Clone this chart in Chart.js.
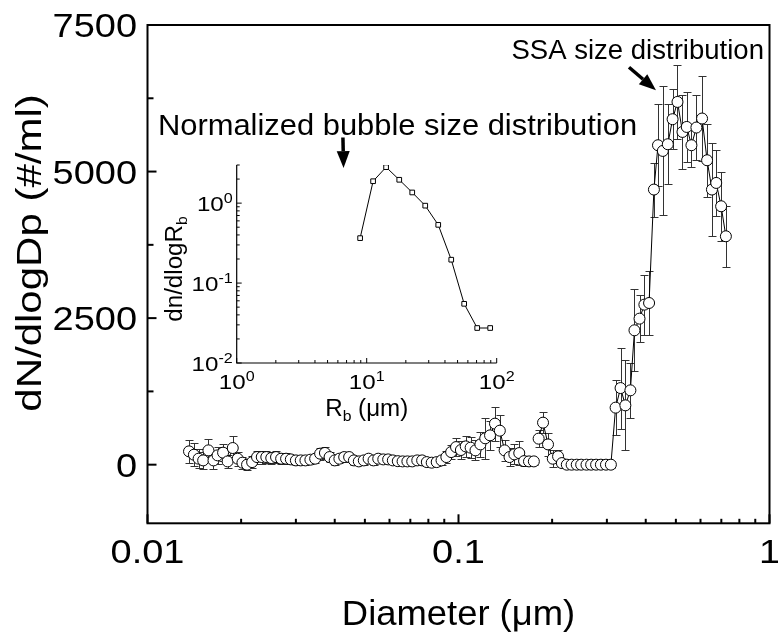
<!DOCTYPE html>
<html>
<head>
<meta charset="utf-8">
<script src="https://cdn.jsdelivr.net/npm/chart.js@4.4.1/dist/chart.umd.min.js"></script>
<style>
  body { margin: 0; background: #fff; }
  #wrap { position: relative; width: 778px; height: 634px; }
  #main { position: absolute; left: 0; top: 0; }
  #inset { position: absolute; left: 150px; top: 150px; }
</style>
</head>
<body>
<div id="wrap">
  <canvas id="main" width="778" height="634"></canvas>
  <canvas id="inset" width="370" height="280"></canvas>
</div>
<script>
// SMPS channels (um) and dN/dlogDp
const smpsDiam = [0.0136, 0.0141, 0.0146, 0.0151, 0.0157, 0.0163, 0.0168, 0.0175, 0.0181, 0.0188,
  0.0195, 0.0202, 0.0209, 0.0217, 0.0225, 0.0233, 0.0241, 0.0250, 0.0259, 0.0269,
  0.0279, 0.0289, 0.0300, 0.0311, 0.0322, 0.0334, 0.0346, 0.0359, 0.0372, 0.0385,
  0.0400, 0.0414, 0.0429, 0.0445, 0.0461, 0.0478, 0.0496, 0.0514, 0.0533, 0.0552,
  0.0573, 0.0594, 0.0615, 0.0638, 0.0661, 0.0685, 0.0710, 0.0737, 0.0764, 0.0791,
  0.0820, 0.0851, 0.0882, 0.0914, 0.0947, 0.0982, 0.1018, 0.1055, 0.1094, 0.1134,
  0.1176, 0.1219, 0.1263, 0.1310, 0.1358, 0.1407, 0.1459, 0.1512, 0.1568, 0.1625,
  0.1685, 0.1747];
const smpsConc = [227, 170, 102, 73, 244, 73, 159, 205, 56, 284,
  102, 34, 0, 44, 130, 130, 130, 113, 130, 102,
  102, 90, 73, 73, 73, 85, 102, 188, 200, 130,
  73, 102, 130, 130, 73, 56, 73, 102, 73, 102,
  90, 90, 73, 60, 56, 56, 56, 73, 73, 44,
  34, 44, 73, 130, 215, 300, 250, 312, 290, 244,
  346, 450, 500, 700, 580, 244, 130, 176, 198, 61,
  56, 56];
const smpsErr = [200, 200, 160, 150, 190, 150, 150, 140, 110, 210,
  120, 100, 90, 100, 110, 110, 100, 100, 100, 90,
  90, 80, 80, 80, 80, 80, 80, 100, 100, 80,
  80, 80, 80, 70, 70, 70, 70, 70, 70, 60,
  60, 60, 60, 60, 60, 60, 60, 60, 60, 60,
  60, 70, 80, 100, 120, 150, 150, 180, 180, 170,
  210, 350, 250, 290, 270, 180, 150, 170, 200, 80,
  60, 60];

// larger sizes
const apsDiam = [0.181, 0.187, 0.194, 0.201, 0.209, 0.215,
  0.223, 0.231, 0.240, 0.248, 0.258, 0.267, 0.277, 0.287, 0.298, 0.309,
  0.320, 0.332, 0.344, 0.357, 0.368, 0.382, 0.396, 0.410,
  0.425, 0.438, 0.454, 0.471, 0.488, 0.506, 0.525, 0.542,
  0.561, 0.582, 0.607, 0.630, 0.653, 0.674, 0.699, 0.724];
const apsConc = [444, 717, 346, 102, 142, 27,
  0, 0, 0, 0, 0, 0, 0, 0, 0, 0,
  973, 1307, 1012, 1268, 2292, 2491, 2730, 2758,
  4693, 5449, 5352, 5466, 5893, 6188, 5676, 5761,
  5449, 5751, 5905, 5193, 4693, 4806, 4408, 3896];
const apsErr = [150, 180, 200, 150, 100, 60,
  0, 0, 0, 0, 0, 0, 0, 0, 0, 60,
  470, 690, 770, 470, 700, 400, 510, 550,
  460, 700, 1100, 680, 510, 630, 630, 600,
  370, 550, 720, 620, 800, 560, 590, 525];

// inset: normalized bubble size distribution
const bubbleR = [8.9, 11.2, 14.1, 17.8, 22.4, 28.2, 35.5, 44.7, 56.2, 70.8, 89.1];
const bubbleN = [0.365, 1.88, 2.82, 1.96, 1.36, 0.93, 0.535, 0.196, 0.055, 0.0274, 0.0274];

// ticks
const xTicks = [0.01, 0.02, 0.03, 0.04, 0.05, 0.06, 0.07, 0.08, 0.09,
  0.1, 0.2, 0.3, 0.4, 0.5, 0.6, 0.7, 0.8, 0.9, 1];
const xLabelVals = [0.01, 0.1, 1];
const xLabels = ["0.01", "0.1", "1"];
const yTicks = [0, 1250, 2500, 3750, 5000, 6250, 7500];
const yLabelVals = [0, 2500, 5000, 7500];
const yLabels = ["0", "2500", "5000", "7500"];

const insetXTicks = [1, 2, 3, 4, 5, 6, 7, 8, 9, 10, 20, 30, 40, 50, 60, 70, 80, 90, 100];
const insetXMajor = [1, 10, 100];
const insetXExp = ["0", "1", "2"];
const insetYTicks = [0.01, 0.02, 0.03, 0.04, 0.05, 0.06, 0.07, 0.08, 0.09,
  0.1, 0.2, 0.3, 0.4, 0.5, 0.6, 0.7, 0.8, 0.9, 1, 2, 3];
const insetYMajor = [0.01, 0.1, 1];
const insetYExp = ["-2", "-1", "0"];

// annotation anchors, in data units of the main axes
const ssaText = { x: 0.96, y: 6928 };
const ssaArrow = { x1: 0.3534, y1: 6780, x2: 0.4315, y2: 6387 };
const bubbleText = { x: 0.0108, y: 5619 };
const bubbleArrow = { x1: 0.0425, y1: 5580, x2: 0.0427, y2: 5060 };

const FONT = "'Liberation Sans', Arial, sans-serif";

function toPts(xs, ys) {
  return xs.map((x, i) => ({ x, y: ys[i] }));
}

function drawText(ctx, text, x, y, size, sx, align) {
  ctx.save();
  ctx.translate(x, y);
  ctx.scale(sx, 1);
  ctx.font = size + "px " + FONT;
  ctx.textAlign = align || "left";
  ctx.textBaseline = "alphabetic";
  ctx.fillStyle = "#000";
  ctx.fillText(text, 0, 0);
  ctx.restore();
}

function drawArrow(ctx, x1, y1, x2, y2) {
  const ang = Math.atan2(y2 - y1, x2 - x1);
  const head = 17, half = 6.5;
  const bx = x2 - head * Math.cos(ang), by = y2 - head * Math.sin(ang);
  ctx.save();
  ctx.strokeStyle = "#000";
  ctx.fillStyle = "#000";
  ctx.lineWidth = 3.5;
  ctx.beginPath();
  ctx.moveTo(x1, y1);
  ctx.lineTo(bx, by);
  ctx.stroke();
  ctx.beginPath();
  ctx.moveTo(x2, y2);
  ctx.lineTo(bx + half * Math.sin(ang), by - half * Math.cos(ang));
  ctx.lineTo(bx - half * Math.sin(ang), by + half * Math.cos(ang));
  ctx.closePath();
  ctx.fill();
  ctx.restore();
}

const errorBars = {
  id: "errorBars",
  beforeDatasetsDraw(chart) {
    const { ctx, chartArea, scales: { x, y } } = chart;
    ctx.save();
    ctx.beginPath();
    ctx.rect(chartArea.left, chartArea.top, chartArea.width, chartArea.height);
    ctx.clip();
    ctx.strokeStyle = "#333";
    ctx.lineWidth = 1;
    chart.data.datasets.forEach(ds => {
      if (!ds.errors) return;
      ds.data.forEach((p, i) => {
        const e = ds.errors[i];
        if (!e) return;
        const px = Math.round(x.getPixelForValue(p.x)) + 0.5;
        const yt = Math.round(y.getPixelForValue(p.y + e)) + 0.5;
        const yb = Math.round(y.getPixelForValue(p.y - e)) + 0.5;
        ctx.beginPath();
        ctx.moveTo(px, yt); ctx.lineTo(px, yb);
        ctx.moveTo(px - 4, yt); ctx.lineTo(px + 4, yt);
        ctx.moveTo(px - 4, yb); ctx.lineTo(px + 4, yb);
        ctx.stroke();
      });
    });
    ctx.restore();
  }
};

const mainDecor = {
  id: "mainDecor",
  afterDraw(chart) {
    const { ctx, chartArea: a, scales: { x, y } } = chart;
    ctx.save();
    ctx.strokeStyle = "#000";
    ctx.lineWidth = 2;
    ctx.strokeRect(a.left, a.top, a.right - a.left, a.bottom - a.top);

    // inward ticks
    xTicks.forEach(v => {
      const px = x.getPixelForValue(v);
      const len = xLabelVals.includes(v) ? 9 : 4.5;
      ctx.beginPath();
      ctx.moveTo(px, a.bottom);
      ctx.lineTo(px, a.bottom - len);
      ctx.stroke();
    });
    yTicks.forEach(v => {
      const py = y.getPixelForValue(v);
      const len = yLabelVals.includes(v) ? 9 : 6;
      ctx.beginPath();
      ctx.moveTo(a.left, py);
      ctx.lineTo(a.left + len, py);
      ctx.stroke();
    });
    ctx.restore();

    // tick labels
    xLabelVals.forEach((v, i) => {
      drawText(ctx, xLabels[i], x.getPixelForValue(v), 563, 33, 1.15, "center");
    });
    yLabelVals.forEach((v, i) => {
      drawText(ctx, yLabels[i], 137, y.getPixelForValue(v) + 12, 33, 1.15, "right");
    });

    // axis titles
    drawText(ctx, "Diameter (\u03bcm)", (a.left + a.right) / 2, 625, 35, 1.04, "center");
    ctx.save();
    ctx.translate(41, 253);
    ctx.rotate(-Math.PI / 2);
    drawText(ctx, "dN/dlogDp (#/ml)", 0, 0, 35, 1.2, "center");
    ctx.restore();

    // annotations
    drawText(ctx, "SSA size distribution", x.getPixelForValue(ssaText.x), y.getPixelForValue(ssaText.y), 27, 1.02, "right");
    drawText(ctx, "Normalized bubble size distribution", x.getPixelForValue(bubbleText.x), y.getPixelForValue(bubbleText.y), 30, 1.03, "left");
    drawArrow(ctx, x.getPixelForValue(ssaArrow.x1), y.getPixelForValue(ssaArrow.y1),
      x.getPixelForValue(ssaArrow.x2), y.getPixelForValue(ssaArrow.y2));
    drawArrow(ctx, x.getPixelForValue(bubbleArrow.x1), y.getPixelForValue(bubbleArrow.y1),
      x.getPixelForValue(bubbleArrow.x2), y.getPixelForValue(bubbleArrow.y2));
  }
};

const seriesStyle = {
  showLine: true,
  borderColor: "#000",
  borderWidth: 1,
  tension: 0,
  pointRadius: 5.5,
  pointBackgroundColor: "#fff",
  pointBorderColor: "#000",
  pointBorderWidth: 1
};

new Chart(document.getElementById("main"), {
  type: "line",
  data: {
    datasets: [
      { data: toPts(smpsDiam, smpsConc), errors: smpsErr, ...seriesStyle },
      { data: toPts(apsDiam, apsConc), errors: apsErr, ...seriesStyle }
    ]
  },
  options: {
    responsive: false,
    animation: false,
    devicePixelRatio: 1,
    layout: { padding: { top: 25, right: 8.5, left: 0, bottom: 0 } },
    plugins: { legend: { display: false }, tooltip: { enabled: false } },
    scales: {
      x: {
        type: "logarithmic",
        min: 0.01,
        max: 1,
        grid: { display: false },
        border: { display: false },
        ticks: { display: false },
        afterBuildTicks: s => { s.ticks = xTicks.map(v => ({ value: v })); },
        afterFit: s => { s.height = 110.7; }
      },
      y: {
        type: "linear",
        min: -1000,
        max: 7500,
        grid: { display: false },
        border: { display: false },
        ticks: { display: false },
        afterBuildTicks: s => { s.ticks = yTicks.map(v => ({ value: v })); },
        afterFit: s => { s.width = 147.5; }
      }
    }
  },
  plugins: [errorBars, mainDecor]
});

function powerLabel(ctx, exp, x, y, align) {
  const base = 21, sup = 14, sx = 1.15;
  ctx.save();
  ctx.font = base + "px " + FONT;
  const w1 = ctx.measureText("10").width * sx;
  ctx.font = sup + "px " + FONT;
  const w2 = ctx.measureText(exp).width * sx;
  ctx.restore();
  let left = x;
  if (align === "center") left = x - (w1 + w2) / 2;
  if (align === "right") left = x - (w1 + w2);
  drawText(ctx, "10", left, y, base, sx, "left");
  drawText(ctx, exp, left + w1, y - 8, sup, sx, "left");
}

const insetDecor = {
  id: "insetDecor",
  afterDraw(chart) {
    const { ctx, chartArea: a, scales: { x, y } } = chart;
    ctx.save();
    ctx.strokeStyle = "#000";
    ctx.lineWidth = 1.2;
    ctx.beginPath();
    ctx.moveTo(a.left, a.top);
    ctx.lineTo(a.left, a.bottom);
    ctx.lineTo(a.right, a.bottom);
    ctx.stroke();
    ctx.lineWidth = 1;
    insetXTicks.forEach(v => {
      const px = x.getPixelForValue(v);
      const len = insetXMajor.includes(v) ? 5 : 3;
      ctx.beginPath();
      ctx.moveTo(px, a.bottom);
      ctx.lineTo(px, a.bottom - len);
      ctx.stroke();
    });
    insetYTicks.forEach(v => {
      const py = y.getPixelForValue(v);
      const len = insetYMajor.includes(v) ? 5 : 3;
      ctx.beginPath();
      ctx.moveTo(a.left, py);
      ctx.lineTo(a.left + len, py);
      ctx.stroke();
    });
    ctx.restore();

    insetXMajor.forEach((v, i) => {
      powerLabel(ctx, insetXExp[i], x.getPixelForValue(v), a.bottom + 26, "center");
    });
    insetYMajor.forEach((v, i) => {
      powerLabel(ctx, insetYExp[i], a.left - 4, y.getPixelForValue(v) + 7.5, "right");
    });

    // x title: R_b (um)
    ctx.save();
    ctx.font = "23px " + FONT;
    const wR = ctx.measureText("R").width;
    const wRest = ctx.measureText(" (\u03bcm)").width;
    ctx.font = "15px " + FONT;
    const wb = ctx.measureText("b").width;
    ctx.restore();
    const sxT = 1.05;
    const total = (wR + wb + wRest) * sxT;
    let lx = (a.left + a.right) / 2 - total / 2;
    const by = a.bottom + 53;
    drawText(ctx, "R", lx, by, 23, sxT, "left");
    drawText(ctx, "b", lx + wR * sxT, by + 5, 15, sxT, "left");
    drawText(ctx, " (\u03bcm)", lx + (wR + wb) * sxT, by, 23, sxT, "left");

    // y title: dn/dlogR_b
    ctx.save();
    ctx.font = "23px " + FONT;
    const wMain = ctx.measureText("dn/dlogR").width * sxT;
    ctx.restore();
    const full = wMain + wb * sxT;
    ctx.save();
    ctx.translate(a.left - 55, (a.top + a.bottom) / 2 + 5);
    ctx.rotate(-Math.PI / 2);
    drawText(ctx, "dn/dlogR", -full / 2, 0, 23, sxT, "left");
    drawText(ctx, "b", -full / 2 + wMain, 5, 15, sxT, "left");
    ctx.restore();
  }
};

new Chart(document.getElementById("inset"), {
  type: "line",
  data: {
    datasets: [{
      data: toPts(bubbleR, bubbleN),
      showLine: true,
      borderColor: "#000",
      borderWidth: 1,
      tension: 0,
      pointStyle: "rect",
      pointRadius: 3.3,
      pointBackgroundColor: "#fff",
      pointBorderColor: "#000",
      pointBorderWidth: 1
    }]
  },
  options: {
    responsive: false,
    animation: false,
    devicePixelRatio: 1,
    layout: { padding: { top: 15, right: 23.3, left: 0, bottom: 0 } },
    plugins: { legend: { display: false }, tooltip: { enabled: false } },
    scales: {
      x: {
        type: "logarithmic",
        min: 1,
        max: 100,
        grid: { display: false },
        border: { display: false },
        ticks: { display: false },
        afterFit: s => { s.height = 67; }
      },
      y: {
        type: "logarithmic",
        min: 0.01,
        max: 3,
        grid: { display: false },
        border: { display: false },
        ticks: { display: false },
        afterFit: s => { s.width = 86.7; }
      }
    }
  },
  plugins: [insetDecor]
});
</script>
</body>
</html>
